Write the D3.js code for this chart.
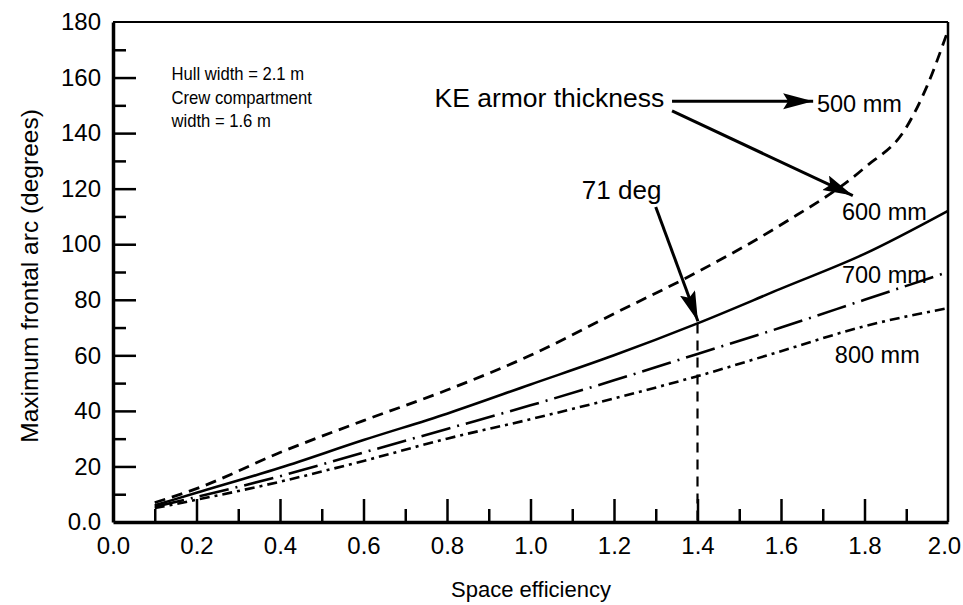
<!DOCTYPE html>
<html>
<head>
<meta charset="utf-8">
<script src="https://cdn.jsdelivr.net/npm/d3@7"></script>
<style>
  body { margin: 0; background: #fff; }
  svg { display: block; }
  text { font-family: "Liberation Sans", Arial, Helvetica, sans-serif; fill: #000; }
</style>
</head>
<body>
<svg id="chart" width="963" height="605"></svg>
<script>
// ---------- data ----------
const xTicks = [0, 0.2, 0.4, 0.6, 0.8, 1.0, 1.2, 1.4, 1.6, 1.8, 2.0];
const xTickLabels = ["0.0", "0.2", "0.4", "0.6", "0.8", "1.0", "1.2", "1.4", "1.6", "1.8", "2.0"];
const xMinorTicks = [0.1, 0.3, 0.5, 0.7, 0.9, 1.1, 1.3, 1.5, 1.7, 1.9];
const yTicks = [0, 20, 40, 60, 80, 100, 120, 140, 160, 180];
const yTickLabels = ["0.0", "20", "40", "60", "80", "100", "120", "140", "160", "180"];
const yMinorTicks = [10, 30, 50, 70, 90, 110, 130, 150, 170];

const seriesNames = ["500 mm", "600 mm", "700 mm", "800 mm"];
const x500 = [0.1, 0.2, 0.4, 0.6, 0.8, 1.0, 1.2, 1.4, 1.6, 1.8, 1.9, 1.95, 2.0];
const y500 = [7, 12, 25, 36.5, 47.5, 60, 75, 90, 107, 127.5, 142, 157, 177];
const xOther = [0.1, 0.2, 0.4, 0.6, 0.8, 1.0, 1.2, 1.4, 1.6, 1.8, 2.0];
const y600 = [6, 10.5, 19.5, 29.5, 39, 49.5, 60, 71.5, 84, 96.5, 112];
const y700 = [5.5, 9, 16.5, 25, 33.5, 42, 51, 60.5, 70, 80, 90];
const y800 = [5, 8, 14.5, 22, 30, 37, 44.5, 52.5, 61.5, 70.5, 77];

const markerX = 1.4;           // vertical reference line
const markerLabel = "71 deg";
const xTitle = "Space efficiency";
const yTitle = "Maximum frontal arc (degrees)";
const noteLines = ["Hull width = 2.1 m", "Crew compartment", "width = 1.6 m"];
const keLabel = "KE armor thickness";

// ---------- layout ----------
const svg = d3.select("#chart");
const x = d3.scaleLinear().domain([0, 2.0]).range([113, 948]);
const y = d3.scaleLinear().domain([0, 180]).range([522, 22]);

// frame (top and right)
svg.append("line").attr("x1", x(0)).attr("x2", x(2)).attr("y1", y(180)).attr("y2", y(180))
  .attr("stroke", "#000").attr("stroke-width", 2);
svg.append("line").attr("x1", x(2)).attr("x2", x(2)).attr("y1", y(180)).attr("y2", y(0))
  .attr("stroke", "#000").attr("stroke-width", 2.5);

// minor ticks
svg.append("g").attr("transform", `translate(${x(0)},0)`)
  .call(d3.axisLeft(y).tickValues(yMinorTicks).tickSize(-13).tickFormat("").tickSizeOuter(0))
  .call(g => g.select(".domain").remove())
  .call(g => g.selectAll("line").attr("stroke-width", 2.5));
svg.append("g").attr("transform", `translate(0,${y(0)})`)
  .call(d3.axisBottom(x).tickValues(xMinorTicks).tickSize(-13).tickFormat("").tickSizeOuter(0))
  .call(g => g.select(".domain").remove())
  .call(g => g.selectAll("line").attr("stroke-width", 2.5));

// major axes
const yAxis = svg.append("g").attr("transform", `translate(${x(0)},0)`)
  .call(d3.axisLeft(y).tickValues(yTicks).tickSize(-23).tickSizeOuter(0).tickPadding(12)
    .tickFormat((d, i) => yTickLabels[i]));
yAxis.select(".domain").attr("stroke-width", 3.5);
yAxis.selectAll(".tick line").attr("stroke-width", 2.5).filter(d => d === 180 || d === 0).remove();
yAxis.selectAll("text").attr("font-size", 24).attr("font-family", null);

const xAxis = svg.append("g").attr("transform", `translate(0,${y(0)})`)
  .call(d3.axisBottom(x).tickValues(xTicks).tickSize(-23).tickSizeOuter(0).tickPadding(15)
    .tickFormat((d, i) => xTickLabels[i]));
xAxis.select(".domain").attr("stroke-width", 3.5);
xAxis.selectAll(".tick line").attr("stroke-width", 2.5).filter(d => d === 0 || d === 2).remove();
xAxis.selectAll("text").attr("font-size", 24).attr("font-family", null)
  .filter(d => d === 2).attr("dx", -4);

// axis titles
svg.append("text").attr("x", 531).attr("y", 597).attr("text-anchor", "middle")
  .attr("font-size", 22).text(xTitle);
svg.append("text").attr("transform", "translate(38,276) rotate(-90)").attr("text-anchor", "middle")
  .attr("font-size", 24.5).text(yTitle);

// ---------- curves ----------
const styles = [
  { dash: "11,7", width: 2.8 },
  { dash: null, width: 2.6 },
  { dash: "30,7,2,7", width: 2.6 },
  { dash: "10,5,3,5", width: 2.6 }
];
const seriesData = [
  x500.map((v, i) => [v, y500[i]]),
  xOther.map((v, i) => [v, y600[i]]),
  xOther.map((v, i) => [v, y700[i]]),
  xOther.map((v, i) => [v, y800[i]])
];
const line = d3.line().x(d => x(d[0])).y(d => y(d[1])).curve(d3.curveMonotoneX);
seriesData.forEach((pts, i) => {
  svg.append("path").datum(pts).attr("d", line)
    .attr("fill", "none").attr("stroke", "#000")
    .attr("stroke-width", styles[i].width)
    .attr("stroke-dasharray", styles[i].dash)
    .attr("stroke-linejoin", "round");
});

// vertical reference line at 1.4
const yAtMarker = y600[xOther.indexOf(markerX)];
svg.append("line").attr("x1", x(markerX)).attr("x2", x(markerX))
  .attr("y1", y(yAtMarker)).attr("y2", y(0))
  .attr("stroke", "#000").attr("stroke-width", 2.2).attr("stroke-dasharray", "10,7");

// ---------- annotations ----------
const defs = svg.append("defs");
defs.append("marker").attr("id", "arrow").attr("markerUnits", "userSpaceOnUse")
  .attr("markerWidth", 32).attr("markerHeight", 18).attr("refX", 30).attr("refY", 8)
  .attr("orient", "auto")
  .append("path").attr("d", "M0,0 L30,8 L0,16 L5,8 Z").attr("fill", "#000");

function arrow(x1, y1, x2, y2) {
  svg.append("line").attr("x1", x(x1)).attr("y1", y(y1)).attr("x2", x(x2)).attr("y2", y(y2))
    .attr("stroke", "#000").attr("stroke-width", 3).attr("marker-end", "url(#arrow)");
}

// note block (slightly condensed type)
const nx = x(0.14), ny = y(159);
const note = svg.append("text").attr("transform", `translate(${nx},${ny}) scale(0.9,1)`)
  .attr("font-size", 18.5);
noteLines.forEach((t, i) => note.append("tspan").attr("x", 0).attr("dy", i === 0 ? 0 : 23.5).text(t));

// KE armor thickness and arrows
svg.append("text").attr("x", x(0.77)).attr("y", y(149.5)).attr("font-size", 26.5).text(keLabel);
arrow(1.339, 151.5, 1.677, 151.5);
arrow(1.339, 148, 1.772, 117.5);

// series labels
const labelPos = [[1.686, 147.6], [1.746, 108.7], [1.746, 86], [1.729, 57.2]];
seriesNames.forEach((n, i) => {
  svg.append("text").attr("x", x(labelPos[i][0])).attr("y", y(labelPos[i][1]))
    .attr("font-size", 23.5).text(n);
});

// 71 deg annotation
svg.append("text").attr("x", x(1.123)).attr("y", y(116.3)).attr("font-size", 26).text(markerLabel);
arrow(1.3, 113.4, 1.401, yAtMarker + 0.8);
</script>
</body>
</html>
